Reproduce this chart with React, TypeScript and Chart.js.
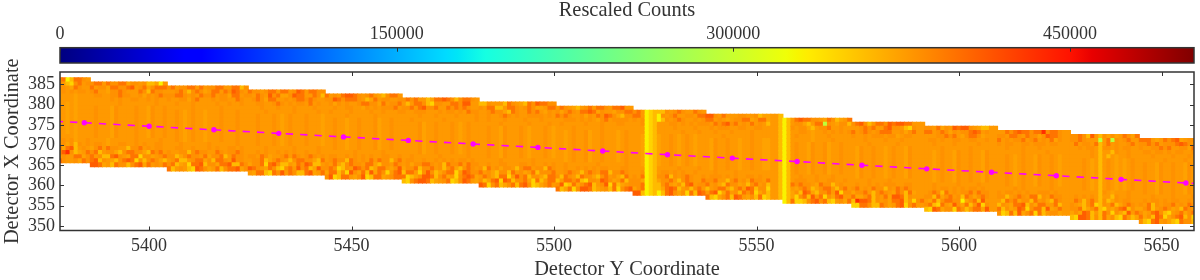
import React, { useEffect, useRef } from "react";
import { Chart, registerables } from "chart.js";

Chart.register(...registerables);

const FONT = "'Liberation Serif', serif";
const INK = "#333333";
const COUNT_MAX = 505300;

const xTicks = [5400, 5450, 5500, 5550, 5600, 5650];
const yTicks = [350, 355, 360, 365, 370, 375, 380, 385];
const barTicks = [0, 150000, 300000, 450000];

// first column of each detector segment, and the lower edge of its lowest row
const segmentStarts = [5378, 5386, 5405, 5425, 5444, 5463, 5482, 5501, 5520, 5538, 5557, 5574, 5592, 5610, 5628, 5645];
const segmentBottoms = [365.6, 364.6, 363.6, 362.6, 361.6, 360.6, 359.6, 358.6, 357.6, 356.6, 355.6, 354.6, 353.6, 352.6, 351.6, 350.6];
const lastColumn = 5658;

// counts for each digit used in the cell tables below
const levelCounts = [293000, 330000, 347000, 360000, 373000, 378000, 382000, 398000, 410000, 435000];

// rows from the top edge of the band, one group per segment
const topRows = [
  "67137765 6775766774665633415 67566775756677557736 7665677577568757766 7565788765675436775 6767553477876367765 3365553765437687766 5765435675776577855 675123336567655765 8865755566556344553 13578776654763457 6786357768788775 6657465878865433 5576787767796776 66763853646457647 77754576784566",
  "65326756 7566477667856746777 55675367645775768765 6576586744687755763 6687677765347566556 5357763266557768855 6577335776567644577 6467657787465546677 775123165675566577 7756545667745774553 13566435770654663 5567675578665326 7756764656678756 6657765766468776 66765550570656755 66767566678765",
  "66547655 6755466765557637665 66776565766756647756 5676477556567767655 5646565567766475667 6675786675576767655 5567664376557675465 7676556465768764366 656123136567655656 6576786756575653553 13656643566755655 7567656777556467 5556676754677645 7565667567565746 57566573575655675 65566767556647",
  "56565665 5665566766556465676 65566467555656655765 5566556765656657565 5565566554656566675 6556665556566565766 5565567656556666565 5566656565467566665 556123555665656566 5656665566556655553 13556654556565656 6556566656645665 5665655665566556 6566556656665665 55656653665656655 56656656566556",
  "55554555 5555565655665565655 55655565555565565565 5556555655565555655 5655556555565565556 5555655565555655556 5565556555565556555 5655555655565556655 555123555565555655 5565556555565555553 13565554555655555 5556555565556555 5565555655555655 5565556555655555 55555653553655655 55565555655565",
  "55554555 5555555655555555655 55555565555556555555 5555655555565555565 5555565555556555555 5565555555655555556 5555565555556555565 5555655555565555555 555123555555655565 5555655555565555553 13555554555565555 5555655555565555 5555655555565555 5555556555556555 55555653535455655 55555565555655",
];

// central rows, which mostly follow a column profile
const centerColumns = "55454555 5655546555565546556 55654565545556555655 5565556545655565554 5565545565556455655 5555645565556545655 5565546555654555654 5545655645565554565 554123455654565455 5465565545565544553 13565546556455655 5465565545655465 5545655465565546 5565456554655654 55565453565454565 56554655655465";

// rows running down to the bottom edge of the band
const bottomRows = [
  "55554555 5555455555565555565 55565555556555555655 5555655555565555565 5555555655555565555 5565555556555555655 5555565555555655555 5565555555655555565 555123555556555565 5565555655555555553 13556555655565555 5555655556555555 5565555565555655 5555656555555655 55555553654555655 55565555655556",
  "56564556 5665455665565655665 55665565556565566565 5565655656565565565 5665565656565566556 5665565565656566565 5565566555665655656 5565565656566555665 556123566565655655 5666565655665655553 13566655655665565 5655656566655665 5565665656566565 6566565655666565 56565653553655655 56566565665565",
  "56463656 4675766553667565665 65566367665576566765 6657645567576567656 5676637656575766367 5646677656376675766 6375646653677566376 5567653676577366765 657123667365676556 6675536756476657553 13767665476635655 6756576636576765 5676375656675766 6635676577365766 57636753634656655 65736566756576",
  "74783565 6735664367766437675 66346766574667357665 5667346765367766437 6574367665774366576 4667366756367436765 7564366375645736667 6376537664367564375 664123466753676557 7564376645367563553 13546763467753675 4667536765476374 6637467563764676 5376746637564376 65436723657346765 46735676453765",
  "68963457 7563378654772664567 56733567746377658665 4667278633547687335 6762365876734775468 3775268634677258766 5764377258673664377 3577673266587645736 667123367546378566 3567743675873662553 13463874366758266 7446736574887365 5473677661467385 3654778364775573 66734673254678364 64578632567467",
  "46557746 7836543678726367643 67345277836647783376 8765476326758673486 4773628647384762578 7234688736745267874 6347828736674273577 6823746783568273456 467123347873563675 5782475637672463553 13426738572647855 398873656477835267 6732754864736826 7364587267738457 46487353762643857 74638724678362",
  "86556476 8874537663678475657 73565328764573677846 5477327685763378457 6823775468237745677 3267887345672368754 8726734673786234675 7347268873456372678 883123137864627387 7324673875463723553 13722367867325647 2277633764578267 3287466276357748 6237384672735664 32887363746327534 63278564327663",
];

// centre line: read at each marker, plus the two ends where the dashes meet the frame
const lineX = [5378, 5384, 5400, 5416, 5432, 5448, 5464, 5480, 5496, 5512, 5528, 5544, 5560, 5576, 5592, 5608, 5624, 5640, 5656, 5658];
const lineY = [375.8, 375.5, 374.63, 373.75, 372.88, 372.0, 371.13, 370.25, 369.4, 368.5, 367.6, 366.75, 365.9, 365.0, 364.1, 363.25, 362.4, 361.5, 360.6, 360.5];

const jetRed: [number, number][] = [[0, 0], [0.35, 0], [0.66, 1], [0.89, 1], [1, 0.5]];
const jetGreen: [number, number][] = [[0, 0], [0.125, 0], [0.375, 1], [0.64, 1], [0.91, 0], [1, 0]];
const jetBlue: [number, number][] = [[0, 0.5], [0.11, 1], [0.34, 1], [0.65, 0], [1, 0]];

function channel(stops: [number, number][], t: number) {
  for (let i = 1; i < stops.length; i++) {
    if (t <= stops[i][0]) {
      const [a, av] = stops[i - 1];
      const [b, bv] = stops[i];
      return av + ((bv - av) * (t - a)) / (b - a);
    }
  }
  return stops[stops.length - 1][1];
}

function jet(t: number) {
  const c = [jetRed, jetGreen, jetBlue].map((s) => Math.round(255 * channel(s, t)));
  return `rgb(${c[0]},${c[1]},${c[2]})`;
}

function readSegments(row: string) {
  return row.split(" ");
}

function buildCells() {
  const rows = [
    ...topRows,
    ...Array.from({ length: 21 - topRows.length - bottomRows.length }, () => centerColumns),
    ...bottomRows,
  ].map(readSegments);
  const points: { x: number; y: number }[] = [];
  const colors: string[] = [];
  const profile = readSegments(centerColumns);
  segmentStarts.forEach((start, s) => {
    const end = s + 1 < segmentStarts.length ? segmentStarts[s + 1] - 1 : lastColumn;
    for (let col = start; col <= end; col++) {
      rows.forEach((row, r) => {
        const i = col - start;
        const digit = row[s]?.[i] ?? profile[s]?.[i] ?? "5";
        points.push({ x: col, y: segmentBottoms[s] + (20 - r) + 0.5 });
        colors.push(jet(levelCounts[Number(digit)] / COUNT_MAX));
      });
    }
  });
  return { points, colors };
}

const frameTicks = {
  id: "frameTicks",
  afterDatasetsDraw(chart: any, _a: any, opts: any) {
    const { ctx, chartArea: a, scales } = chart;
    ctx.save();
    ctx.strokeStyle = INK;
    ctx.lineWidth = 1;
    ctx.beginPath();
    const len = opts.length ?? 4;
    (scales.x?.ticks ?? []).forEach((t: any) => {
      const px = Math.round(scales.x.getPixelForValue(t.value)) + 0.5;
      ctx.moveTo(px, a.top);
      ctx.lineTo(px, a.top + len);
      if (opts.both) {
        ctx.moveTo(px, a.bottom);
        ctx.lineTo(px, a.bottom - len);
      }
    });
    if (opts.both) {
      (scales.y?.ticks ?? []).forEach((t: any) => {
        const py = Math.round(scales.y.getPixelForValue(t.value)) + 0.5;
        ctx.moveTo(a.left, py);
        ctx.lineTo(a.left + len, py);
        ctx.moveTo(a.right, py);
        ctx.lineTo(a.right - len, py);
      });
    }
    ctx.stroke();
    ctx.lineWidth = 1.5;
    ctx.strokeRect(a.left, a.top, a.right - a.left, a.bottom - a.top);
    ctx.restore();
  },
};

export default function App() {
  const mainRef = useRef<HTMLCanvasElement>(null);
  const barRef = useRef<HTMLCanvasElement>(null);

  useEffect(() => {
    const { points, colors } = buildCells();
    const main = new Chart(mainRef.current!, {
      type: "scatter",
      plugins: [frameTicks],
      data: {
        datasets: [
          {
            data: lineX.map((x, i) => ({ x, y: lineY[i] })),
            showLine: true,
            borderColor: "#ff00ff",
            borderWidth: 1.6,
            borderDash: [7.3, 7.1],
            borderDashOffset: 4.3,
            pointRadius: lineX.map((_, i) => (i === 0 || i === lineX.length - 1 ? 0 : 2.7)),
            pointBackgroundColor: "#ff00ff",
            pointBorderWidth: 0,
            order: 0,
            clip: 0,
          },
          {
            data: points,
            pointStyle: "rect",
            pointRadius: 3.6,
            pointBackgroundColor: colors,
            pointBorderWidth: 0,
            showLine: false,
            order: 1,
            clip: 0,
          },
        ],
      } as any,
      options: {
        animation: false,
        responsive: false,
        devicePixelRatio: 1,
        events: [],
        layout: { padding: { left: 0, right: 6, top: 72, bottom: 0 } },
        plugins: { legend: { display: false }, tooltip: { enabled: false }, frameTicks: { both: true, length: 4 } } as any,
        scales: {
          x: {
            type: "linear",
            min: 5378,
            max: 5658,
            grid: { display: false, tickLength: 0 },
            border: { display: false },
            afterBuildTicks: (s: any) => { s.ticks = xTicks.map((value) => ({ value })); },
            afterFit: (s: any) => { s.height = 49.5; },
            ticks: {
              autoSkip: false, maxRotation: 0, padding: 5, color: INK,
              font: { family: FONT, size: 18 },
              callback: (v: any) => String(v),
            },
            title: {
              display: true, text: "Detector Y Coordinate", color: INK,
              font: { family: FONT, size: 20.4 }, padding: { top: 0, bottom: -2 },
            },
          },
          y: {
            type: "linear",
            min: 348.85,
            max: 388.05,
            grid: { display: false, tickLength: 0 },
            border: { display: false },
            afterBuildTicks: (s: any) => { s.ticks = yTicks.map((value) => ({ value })); },
            afterFit: (s: any) => { s.width = 60; },
            ticks: {
              autoSkip: false, padding: 5, color: INK,
              font: { family: FONT, size: 18 },
              callback: (v: any) => String(v),
            },
            title: {
              display: true, text: "Detector X Coordinate", color: INK,
              font: { family: FONT, size: 20.4 }, padding: { top: 0, bottom: 0 },
            },
          },
        },
      },
    } as any);

    const bar = new Chart(barRef.current!, {
      type: "bar",
      plugins: [frameTicks],
      data: {
        labels: [""],
        datasets: [
          {
            data: [[0, COUNT_MAX]],
            barPercentage: 1,
            categoryPercentage: 1,
            borderWidth: 0,
            backgroundColor: (c: any) => {
              const a = c.chart.chartArea;
              if (!a) return "#000";
              const g = c.chart.ctx.createLinearGradient(a.left, 0, a.right, 0);
              const knots = [...jetRed, ...jetGreen, ...jetBlue].map((k) => k[0]);
              Array.from(new Set(knots)).forEach((t) => g.addColorStop(t, jet(t)));
              return g;
            },
          },
        ],
      } as any,
      options: {
        indexAxis: "y",
        animation: false,
        responsive: false,
        devicePixelRatio: 1,
        events: [],
        layout: { padding: { left: 60, right: 6, top: 0, bottom: 3 } },
        plugins: { legend: { display: false }, tooltip: { enabled: false }, frameTicks: { both: false, length: 4 } } as any,
        scales: {
          x: {
            type: "linear",
            position: "top",
            min: 0,
            max: COUNT_MAX,
            grid: { display: false, tickLength: 0 },
            border: { display: false },
            afterBuildTicks: (s: any) => { s.ticks = barTicks.map((value) => ({ value })); },
            afterFit: (s: any) => { s.height = 47.7; },
            ticks: {
              autoSkip: false, maxRotation: 0, padding: 3, color: INK,
              font: { family: FONT, size: 18 },
              callback: (v: any) => String(v),
            },
            title: {
              display: true, text: "Rescaled Counts", color: INK,
              font: { family: FONT, size: 20.4 }, padding: { top: -2, bottom: 0 },
            },
          },
          y: { display: false },
        },
      },
    } as any);

    return () => {
      main.destroy();
      bar.destroy();
    };
  }, []);

  return (
    <div style={{ position: "fixed", left: 0, top: 0, width: 1200, height: 280, background: "#fff" }}>
      <canvas ref={mainRef} width={1200} height={280} style={{ position: "absolute", left: 0, top: 0, display: "block" }} />
      <canvas ref={barRef} width={1200} height={66} style={{ position: "absolute", left: 0, top: 0, display: "block" }} />
    </div>
  );
}
